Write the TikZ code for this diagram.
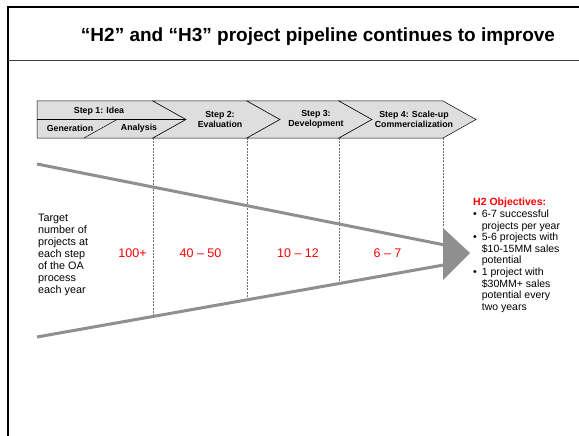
\documentclass[tikz,border=0pt]{standalone}
\usepackage{fontspec}
\setmainfont{Liberation Sans}
\definecolor{chevfill}{RGB}{222,222,222}
\definecolor{funnelgray}{RGB}{143,143,143}
\definecolor{guidegray}{RGB}{110,110,110}
\begin{document}
\begin{tikzpicture}[x=1pt,y=-1pt,
    chev/.style={fill=chevfill,draw=black,line width=0.5pt},
    steplbl/.style={font=\fontsize{8.8}{10}\selectfont\bfseries,align=center,inner sep=0pt},
    guide/.style={draw=guidegray,line width=0.5pt,dash pattern=on 2pt off 1.2pt},
    funnel/.style={draw=funnelgray,line width=3pt},
    count/.style={text=red,font=\fontsize{12.5}{14}\selectfont,inner sep=0pt},
    body/.style={font=\fontsize{10.8}{12}\selectfont,align=left,inner sep=0pt}]
    \useasboundingbox (0,0) rectangle (579,436);
    \draw[line width=2.5pt] (8,436) -- (8,7) -- (579,7);
    \draw[line width=0.8pt,draw=black!75] (8,60) -- (579,60);
    \node[font=\fontsize{19}{22}\selectfont\bfseries] (title) at (318,37) {“H2” and “H3” project pipeline continues to improve};
    \filldraw[chev] (37,101) -- (153,101) -- (186,119.5) -- (153,138) -- (37,138) -- cycle;
    \draw[line width=0.5pt] (37,119.5) -- (186,119.5);
    \draw[line width=0.5pt] (84,138) -- (117,119.5);
    \filldraw[chev] (153,101) -- (247,101) -- (280,119.5) -- (247,138) -- (153,138) -- (186,119.5) -- cycle;
    \filldraw[chev] (247,101) -- (339,101) -- (372,119.5) -- (339,138) -- (247,138) -- (280,119.5) -- cycle;
    \filldraw[chev] (339,101) -- (443,101) -- (476,119.5) -- (443,138) -- (339,138) -- (372,119.5) -- cycle;
    \node[steplbl] (s1top) at (99,111) {Step 1: Idea};
    \node[steplbl] (s1gen) at (70,128.5) {Generation};
    \node[steplbl] (s1ana) at (139,128.5) {Analysis};
    \node[steplbl] (s2) at (220,119.5) {Step 2:\\Evaluation};
    \node[steplbl] (s3) at (316,119.5) {Step 3:\\Development};
    \node[steplbl] (s4) at (414,119.5) {Step 4: Scale-up\\Commercialization};
    \draw[guide] (153,138) -- (153,316.4);
    \draw[guide] (247,138) -- (247,299.8);
    \draw[guide] (339,138) -- (339,283.5);
    \draw[guide] (443,138) -- (443,228);
    \coordinate (upstart) at (37,164);
    \coordinate (upend) at (455,247);
    \coordinate (lostart) at (37,337);
    \coordinate (loend) at (455,263);
    \draw[funnel] (upstart) -- (upend);
    \draw[funnel] (lostart) -- (loend);
    \fill[funnelgray] (443,228) -- (470,253) -- (443,280) -- cycle;
    \node[body,anchor=north west] (target) at (38,214) {Target\\number of\\projects at\\each step\\of the OA\\process\\each year};
    \node[count] (n1) at (132.5,253) {100+};
    \node[count] (n2) at (200.5,253) {40 – 50};
    \node[count] (n3) at (298,253) {10 – 12};
    \node[count] (n4) at (387.5,253) {6 – 7};
    \node[body,font=\fontsize{10.5}{11.6}\selectfont,anchor=north west] (goals) at (473,198) {%
        {\color{red}\bfseries H2 Objectives:}\\
        \textbullet\hspace{5pt}6-7 successful\\
        \phantom{\textbullet}\hspace{5pt}projects per year\\
        \textbullet\hspace{5pt}5-6 projects with\\
        \phantom{\textbullet}\hspace{5pt}\$10-15MM sales\\
        \phantom{\textbullet}\hspace{5pt}potential\\
        \textbullet\hspace{5pt}1 project with\\
        \phantom{\textbullet}\hspace{5pt}\$30MM+ sales\\
        \phantom{\textbullet}\hspace{5pt}potential every\\
        \phantom{\textbullet}\hspace{5pt}two years};
\end{tikzpicture}
\end{document}
